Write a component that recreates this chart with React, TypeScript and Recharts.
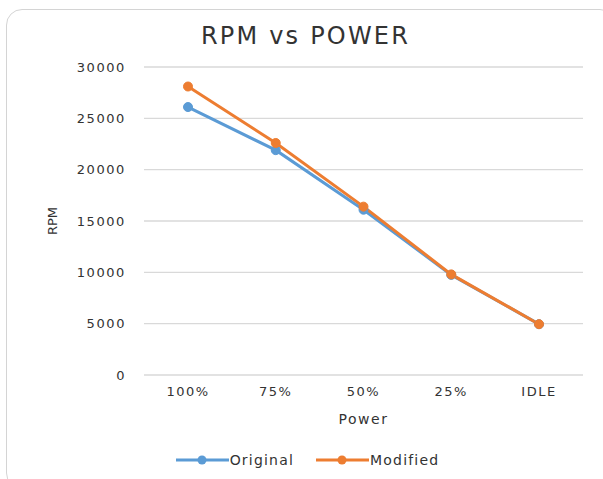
import React from "react";
import {
  LineChart,
  Line,
  XAxis,
  YAxis,
  CartesianGrid,
  Legend,
  Label,
} from "recharts";

const categories = ["100%", "75%", "50%", "25%", "IDLE"];
const original = [26100, 21900, 16100, 9750, 4950];
const modified = [28100, 22600, 16400, 9800, 4950];
const yTicks = [0, 5000, 10000, 15000, 20000, 25000, 30000];

const BLUE = "#5B9BD5";
const ORANGE = "#ED7D31";
const FONT = "'DejaVu Sans', sans-serif";
const TEXT = "#333333";

const rows = categories.map((c, i) => ({
  power: c,
  Original: original[i],
  Modified: modified[i],
}));

function LegendContent() {
  const items = [
    { name: "Original", color: BLUE },
    { name: "Modified", color: ORANGE },
  ];
  return (
    <div
      style={{
        display: "flex",
        justifyContent: "center",
        alignItems: "center",
        height: 30,
        gap: 22,
        fontFamily: FONT,
        fontSize: 14,
        letterSpacing: 1.2,
        color: TEXT,
        paddingRight: 12,
      }}
    >
      {items.map((it) => (
        <div key={it.name} style={{ display: "flex", alignItems: "center" }}>
          <svg width={53} height={12} style={{ marginRight: 1 }}>
            <line x1={0} y1={6} x2={53} y2={6} stroke={it.color} strokeWidth={3} />
            <circle cx={26} cy={6} r={4.5} fill={it.color} />
          </svg>
          <span>{it.name}</span>
        </div>
      ))}
    </div>
  );
}

export default function App() {
  return (
    <div style={{ position: "absolute", left: 0, top: 0, width: 603, height: 479, overflow: "hidden", background: "#fff" }}>
      <div
        style={{
          position: "absolute",
          left: 6,
          top: 9,
          width: 610,
          height: 480,
          border: "1.5px solid #d4d4d4",
          borderRadius: 16,
          boxSizing: "border-box",
        }}
      />
      <div
        style={{
          position: "absolute",
          left: 0,
          top: 21,
          width: 611,
          textAlign: "center",
          fontFamily: FONT,
          fontSize: 24,
          letterSpacing: 2.2,
          color: "#333",
          lineHeight: "30px",
        }}
      >
        RPM vs POWER
      </div>
      <div style={{ position: "absolute", left: 0, top: 0 }}>
        <LineChart
          width={603}
          height={479}
          data={rows}
          margin={{ top: 67, right: 20, left: 44, bottom: 4 }}
        >
          <CartesianGrid vertical={false} stroke="#d9d9d9" strokeWidth={1.3} />
          <XAxis
            dataKey="power"
            height={70}
            axisLine={false}
            tickLine={false}
            tickSize={0}
            tickMargin={12}
            padding={{ left: 44, right: 44 }}
            tick={{ fill: TEXT, fontSize: 13, fontFamily: FONT, letterSpacing: 1.5 }}
          >
            <Label
              value="Power"
              position="insideBottom"
              offset={21}
              style={{ fill: TEXT, fontSize: 14, fontFamily: FONT, letterSpacing: 1.5 }}
            />
          </XAxis>
          <YAxis
            width={100}
            domain={[0, 30000]}
            ticks={yTicks}
            axisLine={false}
            tickLine={false}
            tickSize={0}
            tickMargin={18}
            tick={{ fill: TEXT, fontSize: 13, fontFamily: FONT, letterSpacing: 1.6 }}
          >
            <Label
              value="RPM"
              angle={-90}
              position="insideLeft"
              offset={8}
              style={{ fill: TEXT, fontSize: 13, fontFamily: FONT, textAnchor: "middle" }}
            />
          </YAxis>
          <Legend verticalAlign="bottom" align="center" content={() => <LegendContent />} />
          <Line
            dataKey="Original"
            stroke={BLUE}
            strokeWidth={3}
            dot={{ r: 4.5, fill: BLUE, stroke: BLUE, strokeWidth: 1 }}
            isAnimationActive={false}
          />
          <Line
            dataKey="Modified"
            stroke={ORANGE}
            strokeWidth={3}
            dot={{ r: 4.5, fill: ORANGE, stroke: ORANGE, strokeWidth: 1 }}
            isAnimationActive={false}
          />
        </LineChart>
      </div>
    </div>
  );
}
